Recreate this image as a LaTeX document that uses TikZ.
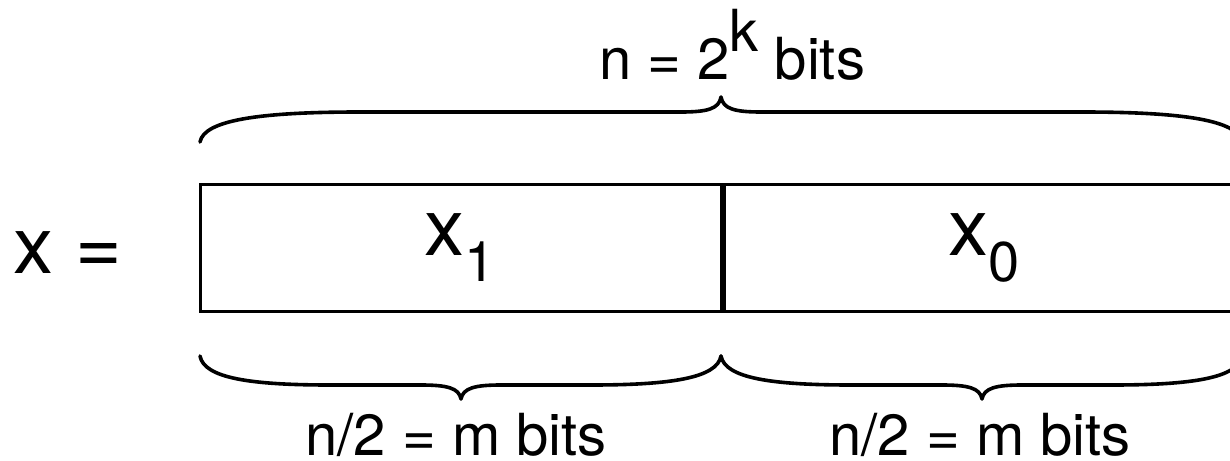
\documentclass[tikz,border=0pt]{standalone}
\usepackage{fontspec}
\setmainfont{TeX Gyre Heros}
\usetikzlibrary{positioning}

\newcommand{\lowsub}[1]{\raisebox{-13pt}{\fontsize{28}{30}\selectfont #1}}

\begin{document}
\begin{tikzpicture}[
  x=0.5pt, y=-0.5pt,
  half/.style={draw=black, line width=1.5pt, rectangle, inner sep=0pt,
    minimum width=260.5pt, minimum height=63.5pt, align=center,
    font=\fontsize{40}{42}\selectfont},
  bigtext/.style={font=\fontsize{40}{42}\selectfont, anchor=base, inner sep=0pt},
  widthtext/.style={font=\fontsize{29}{31}\selectfont, anchor=base, inner sep=0pt},
  bracestroke/.style={draw=black, line width=1.8pt, line cap=round, line join=round},
]
\useasboundingbox (0,0) rectangle (1230,460);
\clip (0,0) rectangle (1230,460);

%--- the word x and its two halves ---
\node[bigtext] (xeq) at (68,273) {x =};
\node[half] (hi) at (460.5,247.5) {x\lowsub{1}};
\node[half, right=0pt of hi] (lo) {x\lowsub{0}};

%--- brace over the whole word ---
\draw[bracestroke] (200,142) .. controls (204,120) and (260,112) .. (360,112)
  -- (681,112) .. controls (707,112) and (719,109) .. (721,97)
  .. controls (723,109) and (735,112) .. (761,112)
  -- (1082,112) .. controls (1182,112) and (1238,120) .. (1242,142);
\node[widthtext] (ntop) at (732,80) {n = 2\raisebox{14pt}{k} bits};

%--- braces under the halves ---
\draw[bracestroke] (200,356) .. controls (204,378) and (250,385) .. (330,385)
  -- (421,385) .. controls (447,385) and (459,388) .. (461,399)
  .. controls (463,388) and (475,385) .. (501,385)
  -- (591,385) .. controls (671,385) and (717,378) .. (721,356);
\draw[bracestroke] (721,356) .. controls (725,378) and (771,385) .. (851,385)
  -- (942,385) .. controls (968,385) and (980,388) .. (982,399)
  .. controls (984,388) and (996,385) .. (1022,385)
  -- (1112,385) .. controls (1192,385) and (1238,378) .. (1242,356);
\node[widthtext] (nhi) at (456,455) {n/2 = m bits};
\node[widthtext] (nlo) at (980,455) {n/2 = m bits};

\end{tikzpicture}
\end{document}
